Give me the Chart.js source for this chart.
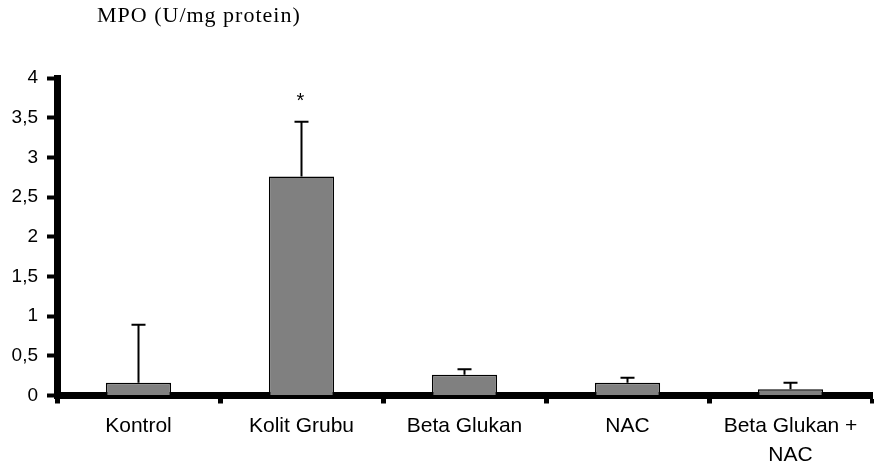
<!DOCTYPE html>
<html>
<head>
<meta charset="utf-8">
<script src="https://cdn.jsdelivr.net/npm/chart.js@4"></script>
<style>
  html, body { margin: 0; padding: 0; background: #fff; }
  canvas { display: block; }
</style>
</head>
<body>
<canvas id="mpo-chart" width="874" height="470"></canvas>
<script>
const chartTitle = "MPO (U/mg protein)";
const categories = ["Kontrol", "Kolit Grubu", "Beta Glukan", "NAC", ["Beta Glukan +", "NAC"]];
const mpoMeans = [0.16, 2.76, 0.26, 0.16, 0.08];
const mpoErrors = [0.73, 0.69, 0.07, 0.065, 0.08];
const significance = ["", "*", "", "", ""];
const yTickLabels = ["0", "0,5", "1", "1,5", "2", "2,5", "3", "3,5", "4"];

const sansFont = "'Liberation Sans', Arial, sans-serif";

// upward error bars plus the significance mark
const errorBars = {
  id: "errorBars",
  afterDatasetsDraw(chart) {
    const { ctx, scales: { x, y } } = chart;
    ctx.save();
    ctx.strokeStyle = "#000";
    ctx.lineWidth = 2;
    mpoMeans.forEach((mean, i) => {
      const px = x.getPixelForValue(i);
      const yBar = y.getPixelForValue(mean);
      const yTop = y.getPixelForValue(mean + mpoErrors[i]);
      ctx.beginPath();
      ctx.moveTo(px, yBar);
      ctx.lineTo(px, yTop);
      ctx.moveTo(px - 7, yTop);
      ctx.lineTo(px + 7, yTop);
      ctx.stroke();

      if (significance[i]) {
        ctx.fillStyle = "#000";
        ctx.font = "20px " + sansFont;
        ctx.textAlign = "center";
        ctx.textBaseline = "middle";
        ctx.fillText(significance[i], px - 1, yTop - 20);
      }
    });
    ctx.restore();
  }
};

const topTitle = {
  id: "topTitle",
  afterDraw(chart) {
    const ctx = chart.ctx;
    ctx.save();
    ctx.fillStyle = "#000";
    ctx.font = "22px 'Liberation Serif', 'Times New Roman', serif";
    ctx.letterSpacing = "1px";
    ctx.textAlign = "left";
    ctx.textBaseline = "middle";
    ctx.fillText(chartTitle, 97, 16);
    ctx.restore();
  }
};

new Chart(document.getElementById("mpo-chart"), {
  type: "bar",
  data: {
    labels: categories,
    datasets: [{
      data: mpoMeans,
      backgroundColor: "#808080",
      borderColor: "#000",
      borderWidth: 1.5,
      barPercentage: 0.4,
      categoryPercentage: 1
    }]
  },
  options: {
    responsive: false,
    animation: false,
    layout: {
      padding: { top: 78, right: 2, left: 0, bottom: 0 }
    },
    plugins: {
      legend: { display: false },
      tooltip: { enabled: false }
    },
    scales: {
      x: {
        offset: true,
        afterFit(scale) { scale.height = 74.5; },
        grid: {
          offset: true,
          drawOnChartArea: false,
          drawTicks: true,
          tickLength: 8,
          tickWidth: 5,
          tickColor: ctx => (ctx.index === categories.length ? "rgba(0,0,0,0)" : "#000")
        },
        border: { display: true, color: "#000", width: 7 },
        ticks: {
          color: "#000",
          padding: 8,
          maxRotation: 0,
          autoSkip: false,
          font: { family: sansFont, size: 21, lineHeight: 1.4 }
        }
      },
      y: {
        min: 0,
        max: 4,
        afterFit(scale) { scale.width = 57; },
        grid: {
          drawOnChartArea: false,
          drawTicks: true,
          tickLength: 10,
          tickWidth: 4,
          tickColor: "#000"
        },
        border: { display: true, color: "#000", width: 7 },
        ticks: {
          stepSize: 0.5,
          color: "#000",
          padding: 9,
          font: { family: sansFont, size: 19 },
          callback: (value, index) => yTickLabels[index]
        }
      }
    }
  },
  plugins: [errorBars, topTitle]
});
</script>
</body>
</html>
